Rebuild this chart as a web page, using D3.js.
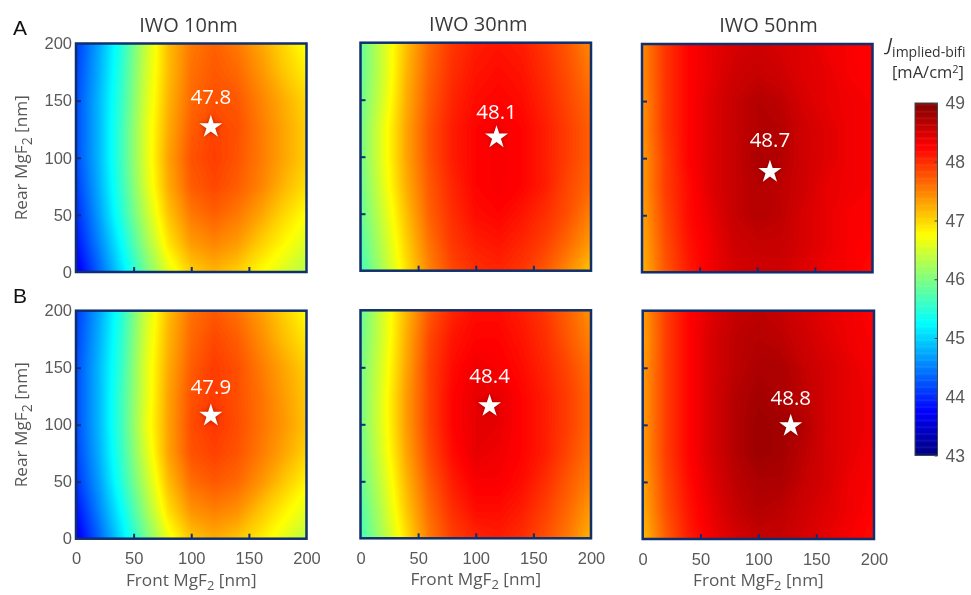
<!DOCTYPE html>
<html>
<head>
<meta charset="utf-8">
<script src="https://cdn.jsdelivr.net/npm/d3@7"></script>
<style>
  html, body { margin: 0; padding: 0; background: #fff; }
  svg { display: block; font-family: "Open Sans", sans-serif; }
  text { fill: #595959; }
</style>
</head>
<body>
<div id="chart"></div>
<script>
// Front MgF2 steps (columns) and Rear MgF2 steps (rows, top row first), nm
var frontSteps = [0, 20, 40, 60, 80, 100, 120, 140, 160, 180, 200];
var rearSteps = [200, 175, 150, 125, 100, 75, 50, 25, 0];

var titles = ["IWO 10nm", "IWO 30nm", "IWO 50nm"];
var rowLetters = ["A", "B"];
var axisTicks = [0, 50, 100, 150, 200];
var barTicks = [43, 44, 45, 46, 47, 48, 49];

// best point of every panel, A row then B row
var bestFront = [117, 118, 111, 117, 112, 128];
var bestRear = [127, 117, 88, 108, 116, 99];
var bestValue = ["47.8", "48.1", "48.7", "47.9", "48.4", "48.8"];

// J values
var gridA10 = [
  44.10,44.75,45.50,46.40,47.15,47.55,47.70,47.55,47.30,47.00,46.72,
  44.15,44.80,45.55,46.45,47.15,47.60,47.75,47.65,47.40,47.10,46.85,
  44.20,44.85,45.60,46.50,47.20,47.65,47.80,47.75,47.50,47.25,47.00,
  44.20,44.85,45.65,46.55,47.25,47.72,47.88,47.80,47.55,47.30,47.05,
  44.20,44.85,45.65,46.55,47.30,47.78,47.90,47.78,47.55,47.30,47.05,
  44.10,44.80,45.60,46.50,47.25,47.72,47.85,47.72,47.50,47.20,46.95,
  44.00,44.70,45.50,46.35,47.10,47.55,47.70,47.55,47.30,47.00,46.75,
  43.85,44.55,45.30,46.15,46.90,47.35,47.48,47.35,47.05,46.80,46.55,
  43.65,44.35,45.10,45.90,46.60,47.05,47.20,47.05,46.78,46.55,46.32
];
var gridA30 = [
  45.85,46.50,47.15,47.65,47.95,48.10,48.15,48.10,47.95,47.75,47.45,
  45.85,46.50,47.20,47.70,48.00,48.15,48.20,48.15,48.00,47.80,47.55,
  45.90,46.55,47.25,47.75,48.05,48.20,48.25,48.20,48.05,47.85,47.65,
  45.95,46.65,47.30,47.80,48.10,48.25,48.30,48.25,48.10,47.90,47.70,
  45.95,46.65,47.30,47.80,48.10,48.25,48.30,48.25,48.10,47.90,47.70,
  45.90,46.60,47.25,47.75,48.05,48.25,48.30,48.25,48.10,47.85,47.65,
  45.85,46.50,47.15,47.70,48.00,48.20,48.25,48.15,48.00,47.80,47.50,
  45.75,46.40,47.05,47.60,47.95,48.10,48.15,48.05,47.90,47.65,47.35,
  45.65,46.30,46.95,47.50,47.85,48.00,48.05,47.95,47.75,47.45,47.10
];
var gridA50 = [
  47.45,47.95,48.25,48.40,48.50,48.55,48.50,48.45,48.35,48.30,48.25,
  47.45,47.95,48.25,48.40,48.55,48.60,48.55,48.45,48.40,48.30,48.25,
  47.40,47.95,48.25,48.45,48.60,48.70,48.65,48.50,48.40,48.35,48.30,
  47.40,47.95,48.25,48.45,48.60,48.70,48.70,48.55,48.45,48.35,48.30,
  47.35,47.90,48.25,48.45,48.60,48.75,48.70,48.55,48.45,48.35,48.30,
  47.35,47.90,48.20,48.45,48.60,48.70,48.65,48.55,48.40,48.35,48.30,
  47.30,47.85,48.20,48.40,48.60,48.70,48.65,48.50,48.40,48.30,48.30,
  47.25,47.80,48.15,48.35,48.55,48.60,48.60,48.50,48.40,48.30,48.25,
  47.20,47.75,48.10,48.35,48.50,48.55,48.55,48.45,48.35,48.30,48.20
];
var gridB10 = [
  44.10,44.75,45.50,46.45,47.15,47.60,47.75,47.60,47.35,47.05,46.75,
  44.15,44.80,45.55,46.50,47.20,47.65,47.85,47.72,47.45,47.15,46.90,
  44.20,44.85,45.60,46.55,47.25,47.72,47.92,47.80,47.55,47.30,47.05,
  44.20,44.85,45.65,46.55,47.30,47.78,47.92,47.80,47.60,47.35,47.10,
  44.20,44.85,45.65,46.60,47.30,47.82,47.95,47.82,47.60,47.38,47.12,
  44.15,44.80,45.60,46.50,47.30,47.78,47.88,47.78,47.55,47.30,47.02,
  44.05,44.70,45.50,46.35,47.15,47.62,47.75,47.65,47.40,47.10,46.82,
  43.85,44.55,45.30,46.15,46.95,47.40,47.52,47.42,47.12,46.85,46.60,
  43.65,44.35,45.10,45.90,46.65,47.10,47.25,47.12,46.88,46.62,46.35
];
var gridB30 = [
  45.85,46.55,47.20,47.75,48.05,48.20,48.20,48.10,47.95,47.70,47.40,
  45.90,46.55,47.25,47.85,48.15,48.25,48.25,48.15,48.00,47.75,47.50,
  45.95,46.60,47.30,47.90,48.20,48.35,48.30,48.20,48.05,47.85,47.60,
  45.95,46.65,47.35,47.90,48.25,48.40,48.40,48.25,48.10,47.90,47.65,
  45.95,46.65,47.35,47.90,48.25,48.40,48.40,48.25,48.10,47.90,47.65,
  45.90,46.60,47.30,47.85,48.20,48.40,48.35,48.25,48.10,47.85,47.60,
  45.85,46.50,47.20,47.75,48.10,48.30,48.30,48.20,48.00,47.75,47.50,
  45.75,46.40,47.10,47.65,48.00,48.20,48.20,48.10,47.90,47.65,47.35,
  45.65,46.30,46.95,47.55,47.90,48.05,48.10,48.00,47.80,47.55,47.20
];
var gridB50 = [
  47.35,47.90,48.25,48.45,48.60,48.65,48.60,48.50,48.40,48.35,48.25,
  47.30,47.90,48.25,48.50,48.65,48.70,48.65,48.55,48.45,48.35,48.30,
  47.35,47.90,48.25,48.50,48.65,48.75,48.75,48.60,48.50,48.40,48.30,
  47.35,47.90,48.25,48.50,48.70,48.80,48.75,48.65,48.50,48.40,48.35,
  47.35,47.90,48.25,48.50,48.70,48.85,48.80,48.70,48.50,48.40,48.35,
  47.35,47.90,48.25,48.50,48.70,48.85,48.80,48.65,48.50,48.40,48.30,
  47.30,47.85,48.20,48.45,48.65,48.75,48.75,48.60,48.50,48.35,48.30,
  47.25,47.80,48.15,48.40,48.60,48.70,48.65,48.55,48.45,48.35,48.25,
  47.15,47.70,48.10,48.35,48.50,48.60,48.60,48.50,48.40,48.30,48.20
];
var grids = [gridA10, gridA30, gridA50, gridB10, gridB30, gridB50];

// layout of the panels in page pixels (the source panels are not quite aligned)
var boxes = [
  { l: 76, r: 306.5, t: 43.5, b: 272, labelDy: -30, titleX: 188.5 },
  { l: 360.5, r: 591, t: 42.7, b: 270.7, labelDy: -26, titleX: 478.3 },
  { l: 642, r: 872.5, t: 44, b: 272.3, labelDy: -32, titleX: 768.5 },
  { l: 76, r: 306.5, t: 310.7, b: 538.7, labelDy: -29 },
  { l: 360.5, r: 591, t: 310.3, b: 538.3, labelDy: -30 },
  { l: 642.7, r: 874, t: 310.7, b: 539, labelDy: -28 }
];

var navy = "#0f2f6e";
var svg = d3.select("#chart").append("svg").attr("width", 971).attr("height", 595);
var page = svg.append("g").style("filter", "blur(0.4px)");

// jet, 43 to 49
var jet = d3.scaleLinear()
  .domain([43, 43.75, 45.25, 46.75, 48.25, 49])
  .range(["#00007f", "#0000ff", "#00ffff", "#ffff00", "#ff0000", "#7f0000"]);
var levels = d3.range(43, 49.001, 0.03);

boxes.forEach(function(box, i) {
  var w = box.r - box.l, h = box.b - box.t;
  var col = i % 3, row = Math.floor(i / 3);
  var x = d3.scaleLinear().domain([0, 200]).range([0, w]);
  var y = d3.scaleLinear().domain([0, 200]).range([h, 0]);
  var gridX = d3.scaleLinear().domain([0.5, frontSteps.length - 0.5]).range([0, w]);
  var gridY = d3.scaleLinear().domain([0.5, rearSteps.length - 0.5]).range([0, h]);

  var g = page.append("g").attr("transform", "translate(" + box.l + "," + box.t + ")");

  g.append("clipPath").attr("id", "clip" + i)
    .append("rect").attr("width", w).attr("height", h);

  var contours = d3.contours()
    .size([frontSteps.length, rearSteps.length])
    .thresholds(levels)(grids[i]);
  var path = d3.geoPath(d3.geoTransform({
    point: function(px, py) { this.stream.point(gridX(px), gridY(py)); }
  }));

  g.append("g").attr("clip-path", "url(#clip" + i + ")")
    .selectAll("path").data(contours.filter(function(c) { return c.coordinates.length; }))
    .enter().append("path")
    .attr("d", path)
    .attr("fill", function(c) { return jet(c.value); });

  // x axis
  var xAxis = d3.axisBottom(x).tickValues(axisTicks).tickSize(-5).tickPadding(row == 1 ? 14 : 0);
  var xg = g.append("g").attr("transform", "translate(0," + h + ")").call(xAxis);
  xg.select(".domain").remove();
  xg.selectAll("line").attr("stroke", navy).attr("stroke-width", 2)
    .filter(function(d) { return d == 0 || d == 200; }).remove();
  xg.selectAll("text").style("font-size", "16.5px").style("font-family", "inherit")
    .text(function(d) { return row == 1 ? d : ""; });

  // y axis
  var yAxis = d3.axisLeft(y).tickValues(axisTicks).tickSize(-5).tickPadding(col == 0 ? 4 : 0);
  var yg = g.append("g").call(yAxis);
  yg.select(".domain").remove();
  yg.selectAll("line").attr("stroke", navy).attr("stroke-width", 2)
    .filter(function(d) { return d == 0 || d == 200; }).remove();
  yg.selectAll("text").style("font-size", "16.5px").style("font-family", "inherit")
    .text(function(d) { return col == 0 ? d : ""; });

  g.append("rect").attr("width", w).attr("height", h)
    .attr("fill", "none").attr("stroke", navy).attr("stroke-width", 2.5);

  // star and its value
  g.append("path")
    .attr("d", d3.symbol(d3.symbolStar, 165))
    .attr("transform", "translate(" + x(bestFront[i]) + "," + y(bestRear[i]) + ")")
    .attr("fill", "#fff")
    .style("filter", "drop-shadow(0 0 2px rgba(90,0,0,.5))");
  g.append("text")
    .attr("x", x(bestFront[i]))
    .attr("y", y(bestRear[i]) + box.labelDy)
    .attr("dy", "0.36em")
    .attr("text-anchor", "middle")
    .style("font-size", "20.5px")
    .style("fill", "#fff")
    .text(bestValue[i]);

  if (row == 0) {
    g.append("text")
      .attr("x", box.titleX - box.l).attr("y", -12)
      .attr("text-anchor", "middle")
      .style("font-size", "20px").style("fill", "#3a3a3a")
      .text(titles[col]);
  }
  if (row == 1) {
    var xt = g.append("text")
      .attr("x", w / 2).attr("y", h + 47)
      .attr("text-anchor", "middle")
      .style("font-size", "17.2px");
    xt.append("tspan").text("Front MgF");
    xt.append("tspan").attr("dy", 4).style("font-size", "13px").text("2");
    xt.append("tspan").attr("dy", -4).text(" [nm]");
  }
  if (col == 0) {
    var yt = g.append("text")
      .attr("transform", "translate(-49.5," + (h / 2) + ") rotate(-90)")
      .attr("text-anchor", "middle")
      .style("font-size", "17.2px");
    yt.append("tspan").text("Rear MgF");
    yt.append("tspan").attr("dy", 5).style("font-size", "14px").text("2");
    yt.append("tspan").attr("dy", -5).text(" [nm]");
  }
});

rowLetters.forEach(function(letter, i) {
  page.append("text")
    .attr("x", 13).attr("y", i == 0 ? 35 : 303)
    .style("font-family", "Liberation Sans")
    .style("font-size", "21px").style("fill", "#111")
    .text(letter);
});

// colour bar
var barL = 915, barR = 937.5, barT = 103, barB = 455.5;
var barY = d3.scaleLinear().domain([43, 49]).range([barB, barT]);
var bar = page.append("g");
bar.selectAll("rect.step").data(d3.range(43, 49, 0.02))
  .enter().append("rect").attr("class", "step")
  .attr("x", barL).attr("width", barR - barL)
  .attr("y", function(d) { return barY(d + 0.02); })
  .attr("height", function(d) { return barY(d) - barY(d + 0.02) + 0.5; })
  .attr("fill", function(d) { return jet(d); });
bar.append("rect")
  .attr("x", barL).attr("y", barT).attr("width", barR - barL).attr("height", barB - barT)
  .attr("fill", "none").attr("stroke", "#3d4a4a").attr("stroke-width", 1);
var barAxis = d3.axisRight(barY).tickValues(barTicks).tickFormat(d3.format("d")).tickSize(-3).tickPadding(8);
var barG = bar.append("g").attr("transform", "translate(" + barR + ",0)").call(barAxis);
barG.select(".domain").remove();
barG.selectAll("line").attr("stroke", "#3d4a4a");
barG.selectAll("text").style("font-size", "17.5px").style("font-family", "inherit");

var barTitle = page.append("text").attr("x", 887).attr("y", 51).style("font-size", "14px");
barTitle.append("tspan").style("font-style", "italic").style("font-size", "19px").style("fill", "#333").text("J");
barTitle.append("tspan").attr("dy", 6).style("fill", "#333").text("implied-bifi");
var barUnit = page.append("text").attr("x", 928).attr("y", 78).attr("text-anchor", "middle")
  .style("font-size", "16.5px").style("fill", "#333");
barUnit.append("tspan").text("[mA/cm");
barUnit.append("tspan").attr("dy", -5).style("font-size", "11px").text("2");
barUnit.append("tspan").attr("dy", 5).text("]");
</script>
</body>
</html>
